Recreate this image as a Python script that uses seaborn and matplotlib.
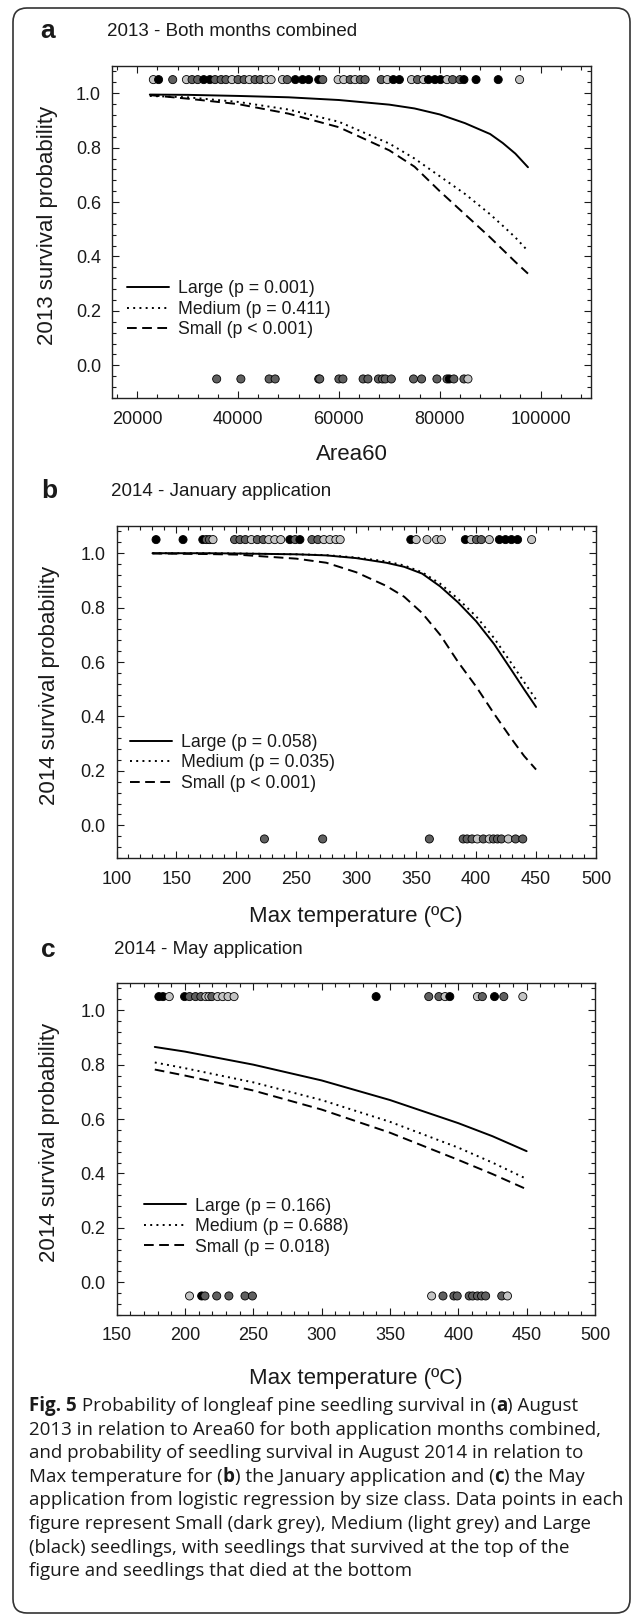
import matplotlib
matplotlib.use("Agg")
import pandas as pd
import matplotlib.pyplot as plt
import seaborn as sns
from matplotlib.lines import Line2D
from matplotlib.patches import FancyBboxPatch
from matplotlib.ticker import MultipleLocator, FormatStrFormatter

# ---------------------------------------------------
# Values
# ---------------------------------------------------
size_names = {"S": "Small", "M": "Medium", "L": "Large"}
point_colours = {"Small": "#606060", "Medium": "#c4c4c4", "Large": "#000000"}

# (a) 2013 - both months, x = Area60
a_curve_x = [22500, 30000, 40000, 50000, 60000, 70000, 75000, 80000, 85000, 90000, 92500, 95000, 97500]
a_large = [0.995, 0.994, 0.990, 0.985, 0.975, 0.958, 0.944, 0.922, 0.890, 0.850, 0.817, 0.778, 0.728]
a_medium = [0.990, 0.985, 0.968, 0.940, 0.895, 0.815, 0.760, 0.695, 0.630, 0.555, 0.513, 0.470, 0.420]
a_small = [0.993, 0.980, 0.960, 0.925, 0.875, 0.790, 0.730, 0.640, 0.555, 0.470, 0.425, 0.380, 0.337]
a_labels = ["Large (p = 0.001)", "Medium (p = 0.411)", "Small (p < 0.001)"]
a_alive_x = [23200, 24240, 27040, 29760, 30880, 32000, 33200, 34400, 35440, 36640,
             37600, 38800, 40000, 41200, 42240, 43360, 44400, 45600, 46560, 48800,
             49760, 51360, 52800, 54000, 56000, 56800, 59840, 60960, 62240, 63200,
             64240, 65200, 68400, 69600, 70800, 72000, 74400, 75600, 76800, 77760,
             79040, 80160, 81440, 82560, 84000, 84800, 87200, 91600, 95840]
a_alive_cls = ["M", "L", "S", "M", "S", "S", "L", "L", "S", "S",
               "S", "M", "S", "S", "M", "S", "S", "M", "M", "M",
               "S", "L", "L", "L", "L", "S", "M", "M", "S", "M",
               "S", "S", "S", "M", "L", "L", "M", "S", "M", "L",
               "L", "L", "M", "S", "S", "L", "L", "L", "M"]
a_dead_x = [35760, 40560, 46160, 47360, 56000, 56200, 60000, 60800, 64800, 65760,
            67840, 68640, 69200, 70400, 74800, 76400, 79440, 81440, 81900, 82800,
            84800, 85600]
a_dead_cls = ["S"] * 18 + ["L", "S", "S", "M"]

# (b) 2014 - January application, x = max temperature
b_curve_x = [130, 175, 200, 250, 275, 300, 325, 340, 355, 370, 385, 400, 415, 430, 440, 450]
b_large = [1.0, 1.0, 0.999, 0.996, 0.992, 0.982, 0.965, 0.950, 0.925, 0.878, 0.819,
           0.750, 0.666, 0.567, 0.500, 0.435]
b_medium = [1.0, 1.0, 0.999, 0.996, 0.993, 0.984, 0.970, 0.955, 0.930, 0.888, 0.832,
            0.768, 0.688, 0.592, 0.527, 0.462]
b_small = [0.999, 0.997, 0.995, 0.980, 0.965, 0.930, 0.880, 0.840, 0.780, 0.700, 0.600,
           0.510, 0.410, 0.315, 0.255, 0.205]
b_labels = ["Large (p = 0.058)", "Medium (p = 0.035)", "Small (p < 0.001)"]
b_alive_x = [133, 155.5, 172, 175, 177.5, 180.5, 198.5, 203, 207.5, 212.5,
             217.5, 222.5, 227, 232, 237, 244.6, 249, 253, 263, 268,
             273, 278, 283, 286.6, 345.5, 350, 359, 367, 371, 391,
             395.8, 400.3, 404.3, 411, 419.4, 424.5, 429.5, 434.6, 446.3]
b_alive_cls = ["L", "L", "L", "S", "S", "M", "S", "S", "S", "M",
               "S", "S", "M", "M", "M", "L", "S", "L", "S", "S",
               "M", "M", "M", "M", "L", "M", "M", "M", "M", "L",
               "M", "S", "S", "M", "L", "L", "L", "L", "M"]
b_dead_x = [223.4, 272, 361, 389.2, 392.5, 396.6, 401, 406, 411, 414.4,
            417.8, 421.1, 426.8, 432.9, 438.9]
b_dead_cls = ["S", "S", "S", "S", "S", "S", "M", "S", "M", "S",
              "S", "S", "M", "S", "S"]

# (c) 2014 - May application, x = max temperature
c_curve_x = [178, 200, 250, 300, 350, 400, 425, 450]
c_large = [0.865, 0.848, 0.800, 0.742, 0.670, 0.585, 0.537, 0.482]
c_medium = [0.808, 0.787, 0.735, 0.670, 0.590, 0.495, 0.440, 0.380]
c_small = [0.782, 0.760, 0.705, 0.635, 0.550, 0.450, 0.398, 0.342]
c_labels = ["Large (p = 0.166)", "Medium (p = 0.688)", "Small (p = 0.018)"]
c_alive_x = [181, 184, 188.6, 199.8, 203.4, 207.8, 211.7, 215.3, 217.6, 219.7,
             224, 227.7, 231.6, 236, 339.9, 378.4, 385.8, 390.3, 393.8, 414,
             417.6, 426.5, 433.3, 447.2]
c_alive_cls = ["L", "L", "M", "L", "S", "S", "S", "M", "M", "S",
               "M", "M", "M", "M", "L", "S", "S", "M", "L", "M",
               "S", "L", "S", "M"]
c_dead_x = [203.4, 212.3, 214.7, 223.3, 232.2, 244, 249.4, 380.5, 388.8, 396.8,
            399.2, 408, 410.5, 414, 417, 420, 431.8, 436]
c_dead_cls = ["M", "L", "S", "S", "S", "S", "S", "M", "S", "S",
              "S", "S", "S", "S", "S", "S", "S", "M"]

caption_lines = [
    "**Fig. 5** Probability of longleaf pine seedling survival in (**a**) August",
    "2013 in relation to Area60 for both application months combined,",
    "and probability of seedling survival in August 2014 in relation to",
    "Max temperature for (**b**) the January application and (**c**) the May",
    "application from logistic regression by size class. Data points in each",
    "figure represent Small (dark grey), Medium (light grey) and Large",
    "(black) seedlings, with seedlings that survived at the top of the",
    "figure and seedlings that died at the bottom",
]

# ---------------------------------------------------
# Style
# ---------------------------------------------------
sns.set_theme(style="ticks")
plt.rcParams["font.family"] = ["Liberation Sans", "DejaVu Sans"]
plt.rcParams["text.color"] = "#1a1a1a"
plt.rcParams["axes.labelcolor"] = "#1a1a1a"
plt.rcParams["xtick.color"] = "#1a1a1a"
plt.rcParams["ytick.color"] = "#1a1a1a"

W, H = 634, 1621
YLIM = (-0.12, 1.10)
fig = plt.figure(figsize=(W / 100, H / 100), dpi=100)
fig.patch.set_facecolor("white")

line_dashes = {"Large": "", "Medium": (1, 2.2), "Small": (5, 2.8)}
LW = 1.4


def add_axes_px(left, right, top, bottom):
    return fig.add_axes([left / W, 1 - bottom / H, (right - left) / W, (bottom - top) / H])


def draw_panel(box, curve_x, large, medium, small, labels,
               alive_x, alive_cls, dead_x, dead_cls,
               xlim, xmajor, xminor, xlabel, ylabel,
               leg_x, leg_value, ylab_right, xlab_top):
    left, right, top, bottom = box
    ax = add_axes_px(left, right, top, bottom)
    curves = pd.DataFrame({
        "x": list(curve_x) * 3,
        "p": list(large) + list(medium) + list(small),
        "size": ["Large"] * len(curve_x) + ["Medium"] * len(curve_x) + ["Small"] * len(curve_x),
    })
    pts = pd.DataFrame({
        "x": list(alive_x) + list(dead_x),
        "y": [1.05] * len(alive_x) + [-0.05] * len(dead_x),
        "size": [size_names[c] for c in list(alive_cls) + list(dead_cls)],
    })

    sns.lineplot(data=curves, x="x", y="p", style="size",
                 style_order=["Large", "Medium", "Small"], dashes=line_dashes,
                 color="black", linewidth=LW, legend=False, ax=ax, zorder=2)
    sns.scatterplot(data=pts, x="x", y="y", hue="size", palette=point_colours,
                    s=34, edgecolor="black", linewidth=0.6, legend=False,
                    ax=ax, zorder=3)

    ax.set_xlim(*xlim)
    ax.set_ylim(*YLIM)
    ax.xaxis.set_major_locator(MultipleLocator(xmajor))
    ax.xaxis.set_minor_locator(MultipleLocator(xminor))
    ax.yaxis.set_major_locator(MultipleLocator(0.2))
    ax.yaxis.set_minor_locator(MultipleLocator(0.04))
    ax.yaxis.set_major_formatter(FormatStrFormatter("%.1f"))
    ax.tick_params(which="both", direction="in", top=True, right=True, width=0.8)
    ax.tick_params(which="major", length=5, labelsize=13)
    ax.tick_params(which="minor", length=3)
    ax.tick_params(axis="y", pad=8)
    ax.tick_params(axis="x", pad=9)
    for sp in ax.spines.values():
        sp.set_linewidth(1.0)
        sp.set_color("#222222")

    ax.set_xlabel(xlabel, fontsize=16, va="top")
    ax.xaxis.set_label_coords(0.5, (bottom - xlab_top) / (bottom - top))
    ax.set_ylabel(ylabel, fontsize=16)
    ax.yaxis.set_label_coords((ylab_right - left) / (right - left), 0.52)

    handles = [
        Line2D([], [], color="black", lw=LW, linestyle="-"),
        Line2D([], [], color="black", lw=LW, dashes=line_dashes["Medium"]),
        Line2D([], [], color="black", lw=LW, dashes=line_dashes["Small"]),
    ]
    leg_y = (leg_value - YLIM[0]) / (YLIM[1] - YLIM[0])
    ax.legend(handles, labels, loc="center left",
              bbox_to_anchor=((leg_x - left) / (right - left), leg_y),
              frameon=False, fontsize=12.7, handlelength=2.4, handletextpad=0.5,
              labelspacing=0.2, borderpad=0, borderaxespad=0)
    return ax


# ---------------------------------------------------
# Panels (boxes in pixels: left, right, top, bottom)
# ---------------------------------------------------
ax_a = draw_panel((112, 591, 66, 398), a_curve_x, a_large, a_medium, a_small, a_labels,
                  a_alive_x, a_alive_cls, a_dead_x, a_dead_cls,
                  (15000, 110000), 20000, 4000, "Area60", "2013 survival probability",
                  127, 0.206, 58, 444)

ax_b = draw_panel((116.5, 596, 526, 858), b_curve_x, b_large, b_medium, b_small, b_labels,
                  b_alive_x, b_alive_cls, b_dead_x, b_dead_cls,
                  (100, 500), 50, 10, "Max temperature (ºC)", "2014 survival probability",
                  130, 0.23, 60, 906)

ax_c = draw_panel((116.5, 595, 983, 1315), c_curve_x, c_large, c_medium, c_small, c_labels,
                  c_alive_x, c_alive_cls, c_dead_x, c_dead_cls,
                  (150, 500), 50, 10, "Max temperature (ºC)", "2014 survival probability",
                  143.5, 0.205, 60, 1368)

# panel letters and titles
for letter, title, lx, tx, ty in [("a", "2013 - Both months combined", 47.5, 107, 31),
                                  ("b", "2014 - January application", 49.5, 111, 491),
                                  ("c", "2014 - May application", 48.5, 114, 950)]:
    fig.text(lx / W, 1 - ty / H, letter, fontsize=19, fontweight="bold",
             ha="center", va="center")
    fig.text(tx / W, 1 - ty / H, title, fontsize=13.5, ha="left", va="center")

# ---------------------------------------------------
# Caption (bold runs marked with **)
# ---------------------------------------------------
renderer = fig.canvas.get_renderer()
cap_family = ["Open Sans", "DejaVu Sans"]
probe = fig.text(0, 0, caption_lines[4], fontsize=12, family=cap_family)
cap_size = 12 * 592 / probe.get_window_extent(renderer).width
probe.remove()

y = 1406
for line in caption_lines:
    x = 29
    for i, part in enumerate(line.split("**")):
        if not part:
            continue
        t = fig.text(x / W, 1 - y / H, part, fontsize=cap_size, family=cap_family,
                     fontweight="bold" if i % 2 else "normal", ha="left", va="center")
        x += t.get_window_extent(renderer).width
    y += 23.6

# outer rounded frame
frame = FancyBboxPatch((13 / 100, (H - 1613) / 100), (630 - 13) / 100, (1613 - 8) / 100,
                       boxstyle="round,pad=0,rounding_size=0.14",
                       transform=fig.dpi_scale_trans, fill=False,
                       linewidth=1.2, edgecolor="#333333")
fig.add_artist(frame)

fig.savefig("out.png", dpi=100)
print("Saved: out.png")
